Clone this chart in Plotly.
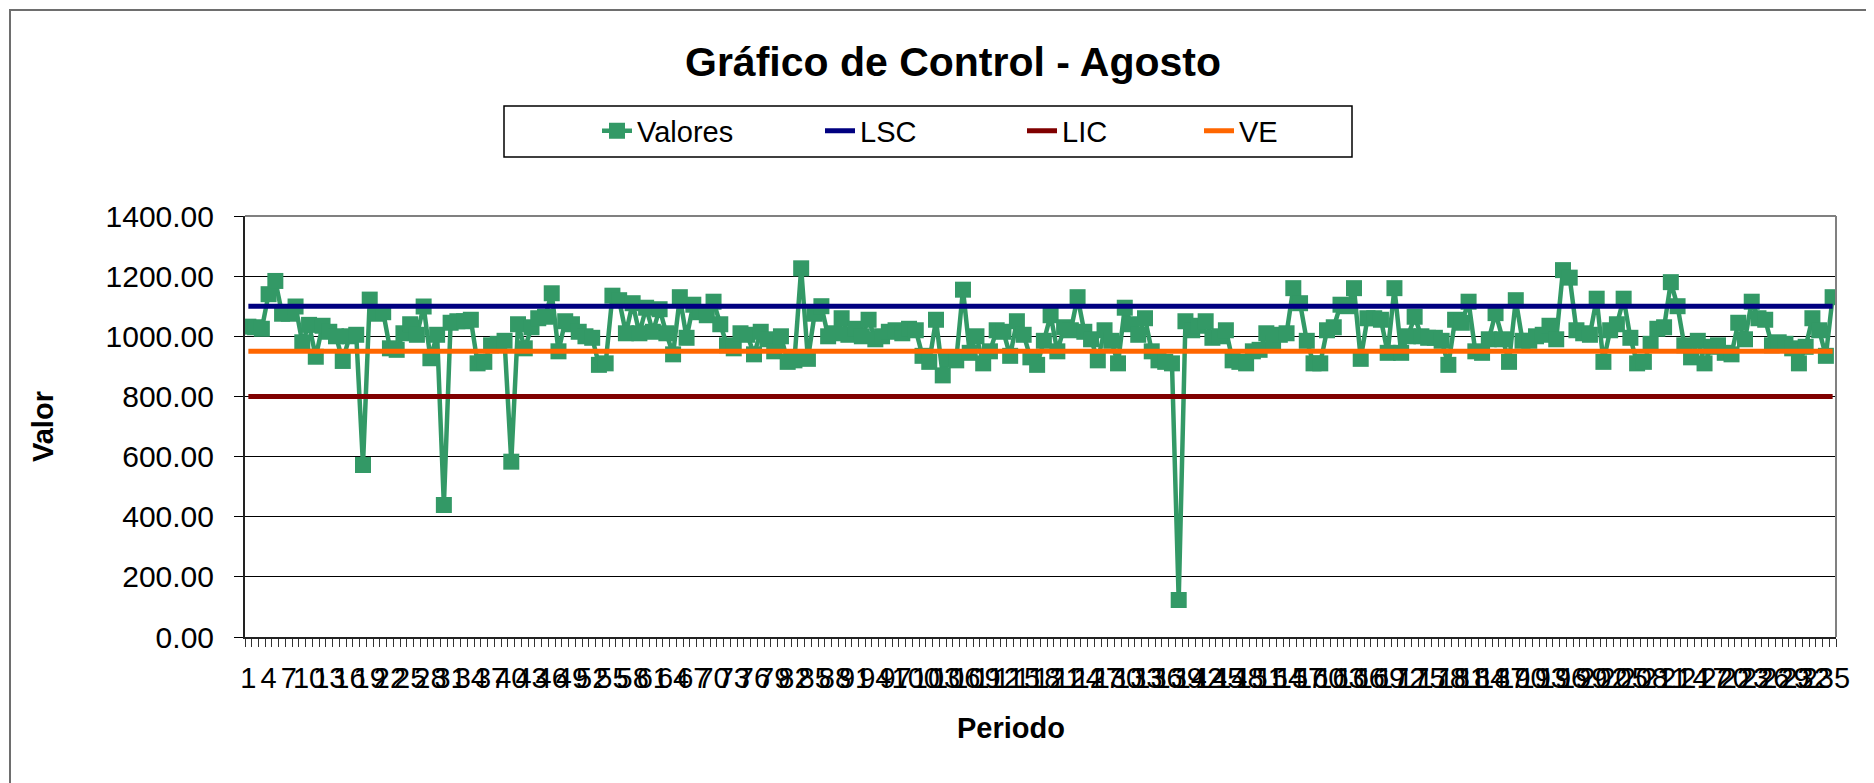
import plotly.graph_objects as go

# ---------------- data ----------------
periodos = list(range(1, 237))
etiquetas_x = list(range(1, 236, 3))

valores = [
    1032, 1030, 1025, 1140, 1184, 1075, 1075, 1099, 980, 1038,
    932, 1035, 1015, 1000, 918, 1000, 1005, 572, 1122, 1075,
    1080, 960, 955, 1010, 1040, 1005, 1099, 927, 1005, 439,
    1045, 1050, 1050, 1055, 910, 915, 970, 975, 985, 583,
    1040, 960, 1030, 1060, 1065, 1143, 950, 1050, 1040, 1015,
    1000, 995, 905, 910, 1135, 1120, 1010, 1110, 1010, 1095,
    1015, 1090, 1010, 940, 1130, 995, 1105, 1080, 1070, 1115,
    1040, 970, 960, 1010, 1005, 940, 1015, 990, 950, 1000,
    915, 920, 1226, 925, 1075, 1100, 1000, 1010, 1060, 1005,
    1025, 1000, 1055, 990, 1000, 1015, 1020, 1010, 1025, 1020,
    935, 915, 1055, 870, 925, 920, 1155, 945, 1000, 910,
    950, 1020, 1015, 935, 1050, 1005, 930, 905, 985, 1070,
    950, 1030, 1020, 1130, 1015, 990, 920, 1020, 985, 910,
    1095, 1040, 1005, 1060, 950, 920, 915, 910, 123, 1050,
    1020, 1035, 1050, 995, 1000, 1020, 920, 915, 910, 950,
    955, 1010, 975, 1005, 1010, 1160, 1110, 985, 910, 910,
    1020, 1030, 1105, 1100, 1160, 925, 1060, 1060, 1055, 945,
    1160, 945, 1000, 1065, 1000, 995, 995, 985, 905, 1055,
    1045, 1115, 950, 945, 990, 1077, 990, 915, 1120, 985,
    985, 1000, 1005, 1035, 990, 1220, 1195, 1020, 1010, 1005,
    1125, 915, 1020, 1040, 1125, 995, 910, 915, 975, 1025,
    1030, 1180, 1100, 970, 930, 985, 910, 965, 970, 945,
    940, 1045, 990, 1115, 1060, 1055, 970, 980, 975, 960,
    910, 965, 1060, 1020, 935, 1130,
]

LSC = 1100.0
LIC = 800.0
VE = 950.0

lsc_serie = [LSC for _ in periodos]
lic_serie = [LIC for _ in periodos]
ve_serie = [VE for _ in periodos]

FONT = "Liberation Sans, Arial, sans-serif"

# ---------------- figure ----------------
fig = go.Figure()
fig.add_trace(go.Scatter(
    x=periodos, y=valores, mode="lines+markers", name="Valores",
    line=dict(color="#339966", width=4.5),
    marker=dict(symbol="square", size=16, color="#339966", line=dict(width=0)),
    legend="legend", showlegend=True,
))
fig.add_trace(go.Scatter(
    x=periodos, y=lsc_serie, mode="lines", name="LSC",
    line=dict(color="#000080", width=5), legend="legend2", showlegend=True,
))
fig.add_trace(go.Scatter(
    x=periodos, y=lic_serie, mode="lines", name="LIC",
    line=dict(color="#800000", width=5), legend="legend3", showlegend=True,
))
fig.add_trace(go.Scatter(
    x=periodos, y=ve_serie, mode="lines", name="VE",
    line=dict(color="#FF6600", width=5), legend="legend4", showlegend=True,
))

# page offset of the figure (default body margin)
OFF = 8
W, H = 1874 - OFF, 783 - OFF
# plot area in page pixels
PL, PR, PT, PB = 245, 1836, 216, 637


def px(xp):
    return (xp - PL) / (PR - PL)


def py(yp):
    return (PB - yp) / (PB - PT)


def cx(xp):
    return (xp - OFF) / W


def cy(yp):
    return 1 - (yp - OFF) / H


leg_common = dict(
    orientation="h", bgcolor="rgba(0,0,0,0)", borderwidth=0,
    font=dict(family=FONT, size=29, color="black"),
    xref="container", yref="container",
    yanchor="middle", y=cy(131), xanchor="left",
)

fig.update_layout(
    width=W, height=H,
    margin=dict(l=PL - OFF, r=W - (PR - OFF), t=PT - OFF, b=H - (PB - OFF),
                autoexpand=False),
    showlegend=True,
    paper_bgcolor="white", plot_bgcolor="white",
    font=dict(family=FONT, size=29, color="black"),
    title=dict(
        text="Gráfico de Control - Agosto",
        font=dict(family=FONT, size=41, color="black", weight="bold"),
        x=cx(953), xanchor="center", xref="container",
        y=cy(62), yanchor="middle", yref="container",
    ),
    legend=dict(leg_common, x=cx(597)),
    legend2=dict(leg_common, x=cx(820)),
    legend3=dict(leg_common, x=cx(1022)),
    legend4=dict(leg_common, x=cx(1199)),
    xaxis=dict(
        range=[0.5, 236.5], automargin=False,
        tickmode="array", tickvals=etiquetas_x,
        ticktext=[str(v) for v in etiquetas_x],
        tickangle=0,
        ticks="outside", ticklen=14, tickcolor="rgba(0,0,0,0)",
        tickfont=dict(family=FONT, size=29, color="black"),
        showgrid=False, zeroline=False,
        showline=True, linecolor="#222222", linewidth=2,
        minor=dict(tickmode="linear", tick0=0.5, dtick=1, ticks="outside",
                   ticklen=8, tickwidth=1, tickcolor="#333333", showgrid=False),
    ),
    yaxis=dict(
        range=[0, 1400], automargin=False,
        tickmode="linear", tick0=0, dtick=200,
        tickformat=".2f",
        ticks="outside", ticklen=9, tickwidth=1, tickcolor="black",
        tickfont=dict(family=FONT, size=30, color="black"),
        ticklabelstandoff=14,
        showgrid=True, gridcolor="black", gridwidth=1,
        zeroline=False,
        showline=True, linecolor="#222222", linewidth=2,
    ),
    shapes=[
        dict(type="line", xref="paper", yref="paper", x0=0, x1=1, y0=1, y1=1,
             line=dict(color="#808080", width=2), layer="above"),
        dict(type="line", xref="paper", yref="paper", x0=1, x1=1, y0=0, y1=1,
             line=dict(color="#808080", width=2), layer="above"),
        dict(type="rect", xref="paper", yref="paper",
             x0=px(504), x1=px(1352), y0=py(157), y1=py(106),
             line=dict(color="black", width=1.5), fillcolor="rgba(0,0,0,0)"),
        dict(type="rect", xref="paper", yref="paper",
             x0=px(10), x1=px(1874 + 20), y0=py(783 + 20), y1=py(10),
             line=dict(color="#6e6e6e", width=2), fillcolor="rgba(0,0,0,0)"),
    ],
    annotations=[
        dict(text="Valor", xref="paper", yref="paper", x=px(43), y=py(427),
             xanchor="center", yanchor="middle", textangle=-90, showarrow=False,
             font=dict(family=FONT, size=29, color="black", weight="bold")),
        dict(text="Periodo", xref="paper", yref="paper", x=px(1011), y=py(728),
             xanchor="center", yanchor="middle", showarrow=False,
             font=dict(family=FONT, size=29, color="black", weight="bold")),
    ],
)

fig.write_html("out.html")
